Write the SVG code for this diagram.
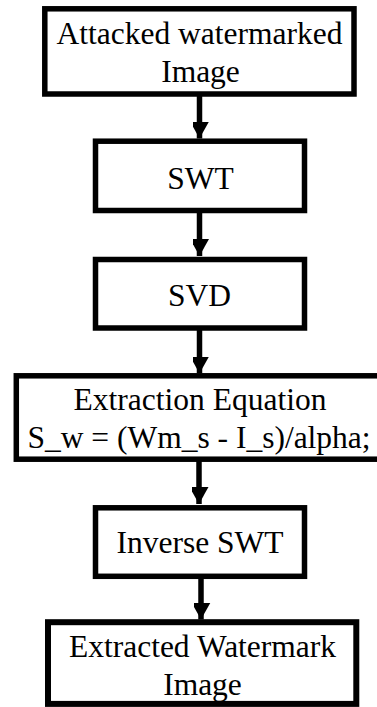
<svg xmlns="http://www.w3.org/2000/svg" width="377" height="707" viewBox="0 0 377 707">
  <defs>
    <style>
      .box { fill: #ffffff; stroke: #000000; stroke-width: 5.5; }
      .label { font-family: "Liberation Serif", "Times New Roman", serif; font-size: 31.5px; fill: #000000; text-anchor: middle; }
      .link { stroke: #000000; stroke-width: 5.5; fill: none; }
    </style>
    <marker id="arrowhead" markerUnits="userSpaceOnUse" markerWidth="20" markerHeight="17" refX="17" refY="10" orient="auto">
      <path d="M0,0.5 L17,10 L0,19.5 Z" fill="#000000"/>
    </marker>
  </defs>
  <rect width="377" height="707" fill="#ffffff"/>

  <!-- connectors -->
  <g id="connectors">
    <line class="link" x1="199.5" y1="96" x2="199.5" y2="138.5" marker-end="url(#arrowhead)"/>
    <line class="link" x1="199.5" y1="213" x2="199.5" y2="256" marker-end="url(#arrowhead)"/>
    <line class="link" x1="199.5" y1="330" x2="199.5" y2="373.5" marker-end="url(#arrowhead)"/>
    <line class="link" x1="199" y1="461" x2="199" y2="504" marker-end="url(#arrowhead)"/>
    <line class="link" x1="201" y1="578" x2="201" y2="619.5" marker-end="url(#arrowhead)"/>
  </g>

  <!-- processing steps -->
  <g id="node-attacked">
    <rect class="box" x="44.8" y="8.8" width="309.2" height="85.2"/>
    <text class="label" x="199.5" y="43.5">Attacked watermarked</text>
    <text class="label" x="200.5" y="81.5">Image</text>
  </g>

  <g id="node-swt">
    <rect class="box" x="95.5" y="141.2" width="209" height="69.3"/>
    <text class="label" x="200.5" y="188.5">SWT</text>
  </g>

  <g id="node-svd">
    <rect class="box" x="95.5" y="259.5" width="209" height="68.5"/>
    <text class="label" x="199.5" y="306">SVD</text>
  </g>

  <g id="node-extraction">
    <rect class="box" x="16.3" y="375.8" width="372" height="83.4"/>
    <text class="label" x="200" y="410">Extraction Equation</text>
    <text class="label" x="199" y="448.3">S_w = (Wm_s - I_s)/alpha;</text>
  </g>

  <g id="node-inverse-swt">
    <rect class="box" x="95.5" y="507.8" width="209" height="68.5"/>
    <text class="label" x="200" y="553.3">Inverse SWT</text>
  </g>

  <g id="node-extracted">
    <rect class="box" x="48" y="622.2" width="308.3" height="81.7" style="stroke-width:6"/>
    <text class="label" x="202.5" y="656.7">Extracted Watermark</text>
    <text class="label" x="202.5" y="695">Image</text>
  </g>
</svg>
